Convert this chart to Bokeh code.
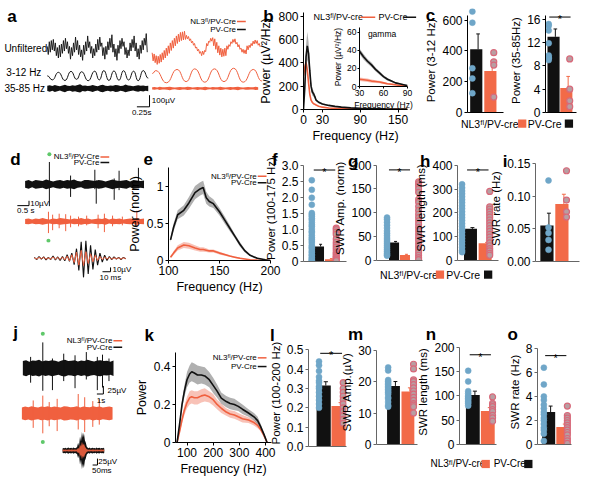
from bokeh.plotting import figure
from bokeh.models import Range1d, FixedTicker, GridBox
from bokeh.core.properties import value
from bokeh.embed import file_html
from bokeh.resources import INLINE

# ======================= DATA =======================
FL = "\u1da0\u02e1"  # superscript "fl"
# ---- panel a : example traces (uV) ----
a_dt = 0.02
a_unf_pv = [20, -50, 60, -30, 70, -10, 80, -20, 50, -60,
            10, -80, 30, -70, 40, -40, 70, -20, 90, 0,
            60, -40, 20, -90, 10, -60, 50, -30, 100, -10,
            70, -50, 30, -70, -10, -100, 30, -50, 60, -20,
            110, 10, 60, -40, 20, -80, 0, -60, 40, -30,
            80, -10, 100, 20, 50, -60, 10, -90, 20, -50,
            60, -10, 90, 10, 120, -30, 40, -70, 0, -100,
            30, -40, 70, 0, 90, 20, 60, -50, 10, -80,
            -10, -60, 50, -20, 80, 10, 110, -20, 50, -70,
            0, -90, 30, -40, 70, -10, 90, 30, 130, -30]
a_unf_nl = [-35, -105, -45, -120, -60, -135, -65, -125, -50, -115, -35, -95, -15, -80, 5, -60,
            25, -40, 50, -15, 70, 5, 90, 25, 110, 45, 125, 60, 140, 70, 145, 75, 150, 80, 115, 85,
            105, 70, 85, 50, 65, 30, 45, 5, 15, -20, -5, -40, -25, -60, -20, -50, -15, -25, 45, 25,
            65, 55, 90, 65, 95, 25, 85, -5, 55, -35, 25, -55, 5, -70, -5, -65, 5, -60, 25, -5,
            35, 20, 60, 45, 80, 55, 85, 40, 55, 15, 35, -5, 5, -30, -5, -40, -10, -45, 25, -10,
            30, 10, 45, 25, 65, 40, 75, 45, 70, 30, 45, 15]
a_theta_pv_t = [0.00, 0.10, 0.22, 0.35, 0.47, 0.58, 0.68, 0.81, 0.94, 1.03,
                1.12, 1.22, 1.32, 1.42, 1.51, 1.61, 1.71, 1.80, 1.90, 2.00]
a_theta_pv_v = [0, -35, 30, -40, 38, -30, 35, -42, 40, -35,
                45, -40, 42, -38, 44, -36, 40, -42, 45, -20]
a_theta_nl_t = [2.08, 2.15, 2.36, 2.57, 2.75, 2.92, 3.12, 3.31, 3.50, 3.69, 3.88, 4.08, 4.25]
a_theta_nl_v = [20, 45, -60, 55, -50, 60, -55, 60, -50, 65, -55, 55, -45]
a_gam_dt = 0.05
a_gam_pv_env = [22, 28, 20, 30, 24, 18, 26, 32, 22, 20, 28, 24, 30, 35, 22, 26, 20, 24, 30, 22,
                18, 28, 32, 24, 20, 26, 22, 30, 28, 20, 24, 34, 26, 22, 18, 24, 28, 22, 26, 20, 24]
a_gam_nl_env = [10, 12, 8, 14, 10, 9, 12, 15, 10, 8, 11, 13, 9, 10, 14, 12, 8, 10, 13, 9, 11, 15,
                10, 8, 12, 10, 9, 14, 11, 8, 10, 13, 9, 12, 15, 10, 8, 11, 12, 9, 10, 14, 11]
a_scale = (100, 0.25)   # uV, s

# ---- panel b : power spectra ----
b_freq = [0, 2, 4, 6, 8, 10, 12, 14, 16, 18, 20, 24, 30, 40, 50, 60, 75, 90, 110, 130, 150, 165]
b_pv = [0, 180, 450, 545, 480, 330, 200, 150, 135, 110, 80, 62, 47, 35, 27, 20, 14, 10, 7, 5, 4, 3]
b_pv_sem = [0, 40, 100, 120, 100, 70, 40, 30, 25, 18, 12, 8, 6, 5, 4, 3, 2, 2, 1, 1, 1, 1]
b_nl = [290, 360, 400, 340, 230, 130, 80, 60, 50, 45, 38, 28, 20, 13, 10, 7, 5, 3, 2, 2, 1, 1]
b_nl_sem = [30, 35, 40, 35, 25, 15, 10, 7, 6, 5, 4, 3, 2, 2, 1, 1, 1, 1, 1, 1, 1, 1]
b_xticks = [0, 30, 90, 150]
b_yticks = [0, 200, 400, 600, 800]
bg_freq = [30, 35, 40, 45, 50, 55, 60, 65, 70, 75, 80, 85, 90]
bg_pv = [39, 33, 28, 24, 19, 15, 11, 8, 6, 4, 3, 2, 1]
bg_pv_sem = [3, 3, 2.5, 2.5, 2, 2, 1.5, 1.5, 1, 1, 1, 0.8, 0.5]
bg_nl = [8, 7.5, 7, 6, 5.5, 5, 4, 3, 2.5, 2, 1.2, 0.8, 0.4]
bg_nl_sem = [2, 2, 2, 1.8, 1.5, 1.5, 1.2, 1, 1, 0.8, 0.6, 0.5, 0.4]
bg_xticks = [30, 60, 90]
bg_yticks = [0, 20, 40, 60]

# ---- panel c ----
c1_means = [410, 270]; c1_errs = [100, 63]
c1_pv = [655, 583, 287, 221, 125]; c1_nl = [388, 329, 308, 100]
c1_yticks = [0, 200, 400, 600]
c2_means = [13.0, 4.2]; c2_errs = [1.35, 2.0]
c2_pv = [15.2, 14.9, 14.1, 11.9, 9.8, 9.5, 9.3, 9.0]; c2_nl = [9.2, 4.0, 2.0, 1.0]
c2_yticks = [0, 4, 8, 12, 16]; c2_sig = 16.4

# ---- panel d : SWR traces ----
d_dt = 0.15
d_pv_env = [7, 9, 6, 9, 8, 7, 10, 8, 6, 8, 9, 7, 9, 8, 10, 7, 6, 9, 9, 8,
            7, 9, 8, 6, 8, 10, 8, 7, 8, 9, 6, 9, 8, 7, 8]
d_nl_env = [5, 6, 4, 6, 5, 7, 5, 4, 6, 5, 7, 6, 5, 4, 6, 5, 7, 5, 6, 4,
            5, 6, 5, 7, 4, 6, 5, 6, 4, 5, 6, 5, 7, 5, 6]
d_pv_spk_t = [1.04, 1.95, 2.99, 3.05, 3.82, 4.03, 4.86]
d_pv_spk_up = [46, 18, 30, 8, 12, 28, 34]
d_pv_spk_dn = [-45, -26, -10, -40, -32, -12, -8]
d_nl_spk_t = [1.0, 1.18, 1.46, 1.74, 1.95, 2.29, 2.64, 3.13, 3.4, 3.75, 4.17, 4.79]
d_nl_spk_up = [20, 14, 16, 15, 12, 10, 12, 14, 16, 12, 10, 22]
d_nl_spk_dn = [-24, -18, -14, -20, -12, -10, -8, -14, -22, -10, -8, -12]
d_swr_dt = 2.9  # ms
d_swr_pv = [2, -3, 4, -2, 3, -4, 2, -3, 5, -4, 3, -5, 4, -6, 8, -7, 12, -15, 22, -28,
            38, -44, 40, -36, 30, -26, 20, -16, 12, -9, 7, -5, 4, -3, 3, -2, 2, -3, 2, -1]
d_swr_nl = [1, -2, 2, -1, 2, -2, 1, -2, 3, -2, 2, -3, 3, -4, 5, -6, 8, -10, 14, -16,
            18, -17, 15, -12, 10, -8, 7, -5, 4, -3, 3, -2, 2, -2, 1, -1, 1, -2, 1, -1]
d_scale = (10, 0.5); d_swr_scale = (10, 10)

# ---- panel e ----
e_freq = [102, 105, 109, 115, 120, 126, 131, 134, 137, 140, 144, 150, 155, 160, 165, 170, 175, 180, 187, 195, 200]
e_pv = [0.28, 0.45, 0.62, 0.68, 0.78, 0.92, 0.97, 0.99, 0.85, 0.8, 0.77, 0.66, 0.55, 0.44, 0.33, 0.22, 0.13, 0.07, 0.03, 0.01, 0.0]
e_pv_sem = [0.03, 0.05, 0.06, 0.07, 0.08, 0.09, 0.09, 0.09, 0.08, 0.07, 0.06, 0.05, 0.05, 0.04, 0.03, 0.03, 0.02, 0.01, 0.01, 0.005, 0.005]
e_nl = [0.045, 0.1, 0.17, 0.21, 0.2, 0.17, 0.15, 0.15, 0.14, 0.13, 0.13, 0.1, 0.08, 0.06, 0.045, 0.03, 0.02, 0.01, 0.005, 0.0, 0.0]
e_nl_sem = [0.015, 0.025, 0.035, 0.04, 0.04, 0.035, 0.03, 0.03, 0.025, 0.02, 0.02, 0.02, 0.015, 0.01, 0.01, 0.01, 0.005, 0.005, 0.003, 0.0, 0.0]
e_xticks = [100, 150, 200]
e_yticks = [0, 0.5, 1]; e_ylabels = ["0", "0.5", "1"]

# ---- panels f-i ----
f_means = [0.47, 0.07]; f_errs = [0.07, 0.02]; f_sig = 2.87
f_pv = [2.55, 2.25, 2.0, 1.78, 1.52, 1.47, 1.42, 1.35, 1.3, 1.22, 1.15, 1.1, 1.02, 0.95, 0.9, 0.82,
        0.75, 0.7, 0.64, 0.58, 0.5, 0.45, 0.4, 0.33, 0.28, 0.22, 0.18, 0.12, 0.08, 0.04, 0.02]
f_nl = [1.05, 1.0, 0.92, 0.85, 0.7, 0.6, 0.52, 0.45, 0.38, 0.3, 0.25, 0.2, 0.15, 0.12, 0.08, 0.05, 0.03]
f_yticks = [0, 0.5, 1, 1.5, 2, 2.5, 3]; f_ylabels = ["0", "0.5", "1.0", "1.5", "2.0", "2.5", "3.0"]
g_means = [38, 11.5]; g_errs = [2, 1.5]; g_sig = 190
g_pv = [90, 86, 80, 74, 68, 62, 57, 52, 47, 43, 39, 35, 31, 27, 23, 19, 15, 12, 10]
g_nl = [165, 161, 156, 150, 143, 128, 122, 113, 105, 97, 90, 83, 76, 69, 62, 55, 48, 42, 35, 29, 23, 17, 11, 6, 2]
g_yticks = [0, 50, 100, 150, 200]
h_means = [133, 72]; h_errs = [5, 4]; h_sig = 380
h_pv = [320, 305, 292, 280, 268, 255, 243, 230, 218, 205, 192, 180, 168, 155, 143, 130, 118, 105, 92, 80, 68, 55, 42, 35]
h_nl = [290, 225, 215, 204, 193, 182, 170, 158, 146, 134, 122, 110, 98, 86, 74, 62, 50, 40, 30, 22]
h_yticks = [0, 100, 200, 300, 400]
i_means = [0.055, 0.088]; i_errs = [0.019, 0.015]
i_pv = [0.124, 0.052, 0.0435, 0.033, 0.018]
i_nl = [0.139, 0.094, 0.076, 0.068]
i_yticks = [0, 0.05, 0.1, 0.15]; i_ylabels = ["0.00", "0.05", "0.10", "0.15"]

# ---- panel j ----
j_dt = 0.5
j_pv_env = [22, 25, 20, 24, 23, 26, 21, 24, 22, 25, 23, 20, 24, 26, 22, 23, 25, 21, 24, 22, 26, 23, 21, 24, 25, 22, 23, 20, 24]
j_nl_env = [18, 21, 19, 22, 20, 18, 21, 20, 22, 19, 21, 20, 18, 22, 21, 19, 20, 22, 18, 21, 20, 19, 22, 20, 21, 18, 20, 21, 19]
j_pv_spk_t = [1.2, 3.08, 4.57, 6.31, 8.06, 9.8, 11.5, 12.3, 13.3]
j_pv_spk_up = [35, 80, 30, 45, 40, 50, 35, 42, 30]
j_pv_spk_dn = [-45, -70, -68, -40, -62, -35, -68, -60, -40]
j_nl_spk_t = [1.6, 3.08, 4.07, 5.3, 8.55, 9.55, 10.8, 11.8]
j_nl_spk_up = [40, 55, 35, 45, 60, 50, 38, 44]
j_nl_spk_dn = [-45, -62, -40, -55, -50, -58, -42, -35]
j_swr_dt = 10  # ms
j_swr_pv_env = [8, 10, 9, 11, 8, 10, 12, 9, 10, 11, 8, 12, 10, 9, 11, 14, 30, 18, 55, 35, 72, 50,
                68, 40, 30, 15, 11, 9, 12, 8, 10, 11, 9, 10, 8, 12, 9, 10, 11, 8, 10, 9, 11, 8]
j_swr_nl_env = [3, 4, 3, 4, 3, 3, 4, 4, 3, 4, 4, 3, 4, 4, 3, 5, 10, 7, 24, 15, 34, 20,
                28, 16, 10, 5, 4, 3, 4, 3, 3, 4, 4, 3, 4, 3, 4, 3, 3, 4, 4, 3, 4, 3]
j_scale = (25, 1.0); j_swr_scale = (25, 50)

# ---- panel k ----
k_freq = [62, 72, 81, 90, 100, 110, 118, 128, 140, 155, 168, 185, 200, 215, 231, 250, 265, 281, 296, 312, 335, 356, 370, 381, 395, 406]
k_pv = [0.0, 0.1, 0.2, 0.27, 0.33, 0.36, 0.372, 0.365, 0.355, 0.355, 0.35, 0.33, 0.3, 0.27, 0.233, 0.215, 0.205, 0.2, 0.19, 0.175, 0.155, 0.135, 0.115, 0.085, 0.04, 0.0]
k_pv_sem = [0.0, 0.015, 0.025, 0.03, 0.04, 0.045, 0.05, 0.05, 0.05, 0.045, 0.045, 0.04, 0.04, 0.035, 0.03, 0.03, 0.03, 0.03, 0.025, 0.025, 0.02, 0.02, 0.02, 0.015, 0.01, 0.0]
k_nl = [0.0, 0.06, 0.12, 0.17, 0.21, 0.235, 0.24, 0.235, 0.235, 0.245, 0.25, 0.24, 0.225, 0.2, 0.18, 0.16, 0.15, 0.145, 0.135, 0.125, 0.118, 0.105, 0.09, 0.07, 0.035, 0.0]
k_nl_sem = [0.0, 0.01, 0.02, 0.025, 0.03, 0.035, 0.035, 0.035, 0.035, 0.035, 0.035, 0.03, 0.03, 0.025, 0.025, 0.02, 0.02, 0.02, 0.02, 0.02, 0.015, 0.015, 0.015, 0.01, 0.01, 0.0]
k_xticks = [100, 200, 300, 400]
k_yticks = [0, 0.2, 0.4]; k_ylabels = ["0", "0.2", "0.4"]

# ---- panels l-o ----
l_means = [0.315, 0.21]; l_errs = [0.02, 0.017]; l_sig = 0.482
l_pv = [0.44, 0.42, 0.39, 0.36, 0.34, 0.33, 0.31, 0.3, 0.28, 0.26, 0.24, 0.22, 0.2]
l_nl = [0.33, 0.3, 0.28, 0.26, 0.24, 0.22, 0.2, 0.18, 0.16, 0.14, 0.12]
l_yticks = [0, 0.1, 0.2, 0.3, 0.4, 0.5]; l_ylabels = ["0.0", "0.1", "0.2", "0.3", "0.4", "0.5"]
m_means = [18.6, 16.8]; m_errs = [1.4, 1.2]
m_pv = [24.5, 23.5, 20.5, 20, 19.5, 19, 18.5, 18, 17.5, 17, 16.5, 16, 15, 14.5, 13.5, 12.5, 12]
m_nl = [25.5, 24, 20.5, 20, 19, 18, 17, 16, 15, 14, 13, 12.5, 12, 10]
m_yticks = [0, 10, 20, 30]
n_means = [102, 69]; n_errs = [8, 7]; n_sig = 185
n_pv = [152, 130, 110, 105, 100, 98, 95, 92, 88, 85, 80]
n_nl = [98, 85, 82, 78, 72, 68, 60, 55, 48]
n_yticks = [0, 50, 100, 150, 200]
o_means = [2.7, 1.45]; o_errs = [0.5, 0.25]; o_sig = 7.4
o_pv = [6.4, 5.0, 4.0, 3.7, 3.3, 3.0, 2.7, 2.5, 2.2, 2.0, 1.7, 1.4, 1.2, 0.9, 0.3]
o_nl = [3.2, 2.4, 2.2, 2.0, 1.8, 1.6, 1.4, 1.2, 1.0, 0.8, 0.5, 0.3, 0.1]
o_yticks = [0, 2, 4, 6, 8]

# ======================= STYLE / LAYOUT =======================
W, H = 584, 478
SX, SY = W / 600.0, H / 494.0
FONT = "Liberation Sans"
BLACK = "#111111"; RED = "#f0603f"; REDBAR = "#f26a48"
BLUE = "#6fa6c8"; PINK = "#d8697a"; PINKFILL = "#b89ea2"
SHADE_K = "#8f8f8f"; SHADE_R = "#f5a898"; GREEN = "#5fc86a"; GREY_AX = "#666666"

figs = []


def make_fig(x0, y0, x1, y1, xr, yr, axes=False):
    kw = {} if axes else dict(x_axis_location=None, y_axis_location=None)
    p = figure(width=W, height=H, x_range=Range1d(*xr), y_range=Range1d(*yr),
               output_backend="svg", toolbar_location=None, title=None,
               min_border_left=int(round(x0 * SX)), min_border_right=W - int(round(x1 * SX)),
               min_border_top=int(round(y0 * SY)), min_border_bottom=H - int(round(y1 * SY)), **kw)
    p.background_fill_color = None
    p.border_fill_color = None
    p.outline_line_color = None
    p.grid.visible = False
    figs.append(p)
    return p


def style(p, xt, xl, yt, yl, xlab, ylab, color="black", tsize="12px", lsize="12px", tick_out=3, stand=2):
    for ax, t, l, lab in ((p.xaxis[0], xt, xl, xlab), (p.yaxis[0], yt, yl, ylab)):
        ax.ticker = FixedTicker(ticks=list(t))
        if len(t):
            ax.major_label_overrides = dict(zip(t, l))
        ax.axis_label = lab if lab else None
        ax.axis_line_color = color
        ax.major_tick_line_color = color
        ax.major_tick_out = tick_out
        ax.major_tick_in = 0
        ax.minor_tick_line_color = None
        ax.major_label_text_font = FONT
        ax.major_label_text_font_size = tsize
        ax.major_label_text_color = "black"
        ax.major_label_standoff = stand
        ax.axis_label_text_font = FONT
        ax.axis_label_text_font_size = lsize
        ax.axis_label_text_font_style = "normal"
        ax.axis_label_text_color = "black"
        ax.axis_label_standoff = stand


def labels_of(t):
    return [str(v) for v in t]


def line_panel(frame, xr, yr, x, series):
    p = make_fig(*frame, xr, yr, axes=True)
    for mean, sem, lc, sc, a in series:
        p.varea(x=x, y1=[m - s for m, s in zip(mean, sem)], y2=[m + s for m, s in zip(mean, sem)],
                fill_color=sc, fill_alpha=a)
    for mean, sem, lc, sc, a in series:
        p.line(x=x, y=mean, line_color=lc, line_width=1.6)
    return p


def bar_panel(L, means, errs, pv, nl, yt, yl, bound_top, ylabel, sig=None, color=GREY_AX):
    upp = L["tick_v"] / (L["zero"] - L["tick_y"])
    sp = L["cr"] - L["cb"]
    xs = 1 - (L["cb"] - L["left"]) / sp
    xe = 1 + (L["right"] - L["cb"]) / sp
    p = make_fig(L["left"], L["top"], L["right"], L["zero"], (xs, xe), (0, (L["zero"] - L["top"]) * upp), axes=True)
    bwu = L["bw"] / sp
    xpos = [1, 2]
    cols = [BLACK, REDBAR]
    p.vbar(x=xpos, top=means, width=bwu, fill_color=cols, line_color=None)
    ex = [x + 0.15 * bwu for x in xpos]
    tops = [m + e for m, e in zip(means, errs)]
    p.segment(x0=ex, y0=means, x1=ex, y1=tops, line_color=cols, line_width=1)
    p.segment(x0=[x - 0.15 * bwu for x in ex], y0=tops, x1=[x + 0.15 * bwu for x in ex], y1=tops,
              line_color=cols, line_width=1)
    xb = 1 + (L["db"] - L["cb"]) / sp
    xr_ = 1 + (L["dr"] - L["cb"]) / sp
    p.scatter(x=[xb] * len(pv), y=pv, size=6, fill_color=BLUE, line_color=BLUE, line_width=0.5)
    p.scatter(x=[xr_] * len(nl), y=nl, size=6, fill_color=PINKFILL, line_color=PINK, line_width=1.2)
    if sig is not None:
        half = 11.0 / sp
        p.segment(x0=[1.5 - half], y0=[sig], x1=[1.5 + half], y1=[sig], line_color="black", line_width=1)
        p.text(x=[1.5], y=[sig], text=["*"], text_font=value(FONT), text_font_size="11px",
               text_align="center", text_baseline="alphabetic", y_offset=2)
    style(p, [], [], yt, yl, None, ylabel, color=color, tsize="12px", lsize="11.5px")
    p.yaxis[0].bounds = (0, bound_top)
    return p


class Tr:
    def __init__(self, frame, t0_ref, ppx, v0_ref, ppy):
        x0, y0, x1, y1 = frame
        self.t0_ref, self.ppx, self.v0_ref, self.ppy = t0_ref, ppx, v0_ref, ppy
        self.p = make_fig(x0, y0, x1, y1, ((x0 - t0_ref) / ppx, (x1 - t0_ref) / ppx),
                          ((v0_ref - y1) / ppy, (v0_ref - y0) / ppy))

    def v(self, ref_y):
        return (self.v0_ref - ref_y) / self.ppy

    def t(self, ref_x):
        return (ref_x - self.t0_ref) / self.ppx

    def sbar(self, ref_x, ref_y, dv, dt):
        t, v = self.t(ref_x), self.v(ref_y)
        self.p.segment(x0=[t, t - dt], y0=[v, v], x1=[t, t], y1=[v + dv, v], line_color="black", line_width=1)

    def trace(self, t0, dt, vals, base, color, width=0.8):
        self.p.line(x=[t0 + i * dt for i in range(len(vals))], y=[base + v for v in vals],
                    line_color=color, line_width=width)

    def band(self, t0, dt, env, base, color, alpha=1.0):
        ts = [t0 + i * dt for i in range(len(env))]
        self.p.varea(x=ts, y1=[base - e for e in env], y2=[base + e for e in env], fill_color=color, fill_alpha=alpha)

    def spikes(self, ts, up, dn, base, color):
        self.p.segment(x0=ts, y0=[base + d for d in dn], x1=ts, y1=[base + u for u in up],
                       line_color=color, line_width=1)

    def smooth(self, ts, vs, base, color, width=1.0):
        x0, x1 = ts[:-1], ts[1:]
        y0 = [base + v for v in vs[:-1]]
        y1 = [base + v for v in vs[1:]]
        cx = [(a + b) / 2 for a, b in zip(x0, x1)]
        self.p.bezier(x0=x0, y0=y0, x1=x1, y1=y1, cx0=cx, cy0=y0, cx1=cx, cy1=y1, line_color=color, line_width=width)


# ---------- panel a ----------
ta = Tr((40, 25, 282, 120), 48, 52, 120, 0.12)
ta.trace(0, a_dt, a_unf_pv, ta.v(50), BLACK, 0.9)
ta.trace(ta.t(156), a_dt, a_unf_nl, ta.v(50), RED, 1.0)
ta.smooth(a_theta_pv_t, a_theta_pv_v, ta.v(78), BLACK)
ta.smooth(a_theta_nl_t, a_theta_nl_v, ta.v(78), RED)
ta.band(0, a_gam_dt, a_gam_pv_env, ta.v(91), BLACK)
ta.band(ta.t(156), a_gam_dt, a_gam_nl_env, ta.v(91), RED)
ta.sbar(153.3, 110, a_scale[0], a_scale[1])

# ---------- panel b ----------
pb = line_panel((311.7, 12, 418.5, 113), (0, 165), (0, 830), b_freq,
                [(b_nl, b_nl_sem, RED, SHADE_R, 0.7), (b_pv, b_pv_sem, BLACK, SHADE_K, 0.7)])
style(pb, b_xticks, labels_of(b_xticks), b_yticks, labels_of(b_yticks), "Frequency (Hz)", "Power (\u00b5V\u00b2/Hz)",
      tsize="12px", lsize="12.5px")
pbi = line_panel((369.3, 28.3, 418.3, 89.3), (30, 90), (0, 65.4), bg_freq,
                 [(bg_nl, bg_nl_sem, RED, SHADE_R, 0.7), (bg_pv, bg_pv_sem, BLACK, SHADE_K, 0.7)])
style(pbi, bg_xticks, labels_of(bg_xticks), bg_yticks, labels_of(bg_yticks), "Frequency (Hz)",
      "Power (\u00b5V\u00b2/Hz)", tsize="8.5px", lsize="8.5px", tick_out=2, stand=1)

# ---------- panel c ----------
BL = {
    "c1": dict(left=480, right=517, top=8, zero=116, tick_y=20, tick_v=600, cb=489, cr=503.5, bw=12.5, db=485, dr=507),
    "c2": dict(left=560, right=592, top=8, zero=116, tick_y=19.3, tick_v=16, cb=568.3, cr=581.5, bw=12.5, db=563.3, dr=585),
    "f": dict(left=311, right=355, top=160, zero=269.3, tick_y=170.7, tick_v=3.0, cb=327, cr=338, bw=10, db=319.5, dr=344.5),
    "g": dict(left=386, right=434, top=160, zero=269, tick_y=170, tick_v=200, cb=404.3, cr=415.7, bw=10.5, db=397, dr=430),
    "h": dict(left=470, right=512, top=160, zero=268.3, tick_y=170, tick_v=400, cb=483.3, cr=498.3, bw=13.3, db=474.7, dr=503),
    "i": dict(left=550, right=595, top=160, zero=269.3, tick_y=168.3, tick_v=0.15, cb=561.7, cr=577, bw=13.5, db=563.3, dr=581.7),
    "l": dict(left=316.7, right=355, top=350, zero=460.7, tick_y=360.7, tick_v=0.5, cb=332, cr=347, bw=14.3, db=327.3, dr=351.7),
    "m": dict(left=386.5, right=428, top=350, zero=459.3, tick_y=361, tick_v=30, cb=403.7, cr=418.3, bw=13, db=398.3, dr=424),
    "n": dict(left=471.7, right=510, top=350, zero=459, tick_y=358.3, tick_v=200, cb=485.5, cr=501, bw=14.3, db=480.7, dr=506),
    "o": dict(left=551.7, right=587, top=350, zero=459.3, tick_y=359.3, tick_v=8, cb=563.3, cr=578, bw=13.5, db=558.3, dr=582.7),
}
bar_panel(BL["c1"], c1_means, c1_errs, c1_pv, c1_nl, c1_yticks, labels_of(c1_yticks), 630, "Power (3-12 Hz)", color="black")
bar_panel(BL["c2"], c2_means, c2_errs, c2_pv, c2_nl, c2_yticks, labels_of(c2_yticks), 16.7, "Power (35-85Hz)", sig=c2_sig, color="black")

# ---------- panel d ----------
td = Tr((12, 150, 152, 250), 25, 24, 250, 0.5)
bpv, bnl = td.v(190), td.v(228.3)
td.band(0, d_dt, d_pv_env, bpv, BLACK)
td.spikes(d_pv_spk_t, d_pv_spk_up, d_pv_spk_dn, bpv, BLACK)
td.band(0, d_dt, d_nl_env, bnl, RED)
td.spikes(d_nl_spk_t, d_nl_spk_up, d_nl_spk_dn, bnl, RED)
td.p.scatter(x=[d_pv_spk_t[0], d_nl_spk_t[0]],
             y=[bpv + d_pv_spk_up[0] + 8 / td.ppy, bnl + d_nl_spk_dn[0] - 8 / td.ppy],
             size=4, fill_color=GREEN, line_color=None)
td.sbar(29, 212, d_scale[0], d_scale[1])
tds = Tr((28, 240, 142, 296), 35, 0.83, 266.7, 0.45)
tds.trace(0, d_swr_dt, d_swr_pv, 0, BLACK, 1.1)
tds.trace(0, d_swr_dt, d_swr_nl, 0, RED, 1.0)
tds.sbar(113.3, 280.7, d_swr_scale[0], d_swr_scale[1])

# ---------- panel e ----------
pe = line_panel((172.7, 172.7, 277, 268.3), (100, 200), (0, 1.26), e_freq,
                [(e_nl, e_nl_sem, RED, SHADE_R, 0.7), (e_pv, e_pv_sem, BLACK, SHADE_K, 0.7)])
style(pe, e_xticks, labels_of(e_xticks), e_yticks, e_ylabels, "Frequency (Hz)", "Power (norm)", tsize="12px", lsize="12.5px")

# ---------- panels f-i ----------
bar_panel(BL["f"], f_means, f_errs, f_pv, f_nl, f_yticks, f_ylabels, 3.0, "Power (100-175 Hz)", sig=f_sig)
bar_panel(BL["g"], g_means, g_errs, g_pv, g_nl, g_yticks, labels_of(g_yticks), 200, "SWR Amp. (norm)", sig=g_sig)
bar_panel(BL["h"], h_means, h_errs, h_pv, h_nl, h_yticks, labels_of(h_yticks), 400, "SWR length (ms)", sig=h_sig)
bar_panel(BL["i"], i_means, i_errs, i_pv, i_nl, i_yticks, i_ylabels, 0.15, "SWR rate (Hz)")

# ---------- panel j ----------
tj = Tr((12, 340, 132, 462), 22.7, 6.7, 462, 1 / 3.0)
jpv, jnl = tj.v(380), tj.v(426.7)
tj.band(0, j_dt, j_pv_env, jpv, BLACK)
tj.spikes(j_pv_spk_t, j_pv_spk_up, j_pv_spk_dn, jpv, BLACK)
tj.band(tj.t(21.7), j_dt, j_nl_env, jnl, RED)
tj.spikes(j_nl_spk_t, j_nl_spk_up, j_nl_spk_dn, jnl, RED)
tj.p.scatter(x=[j_pv_spk_t[1], j_nl_spk_t[1]],
             y=[jpv + j_pv_spk_up[1] + 9 / tj.ppy, jnl + j_nl_spk_dn[1] - 9 / tj.ppy],
             size=4, fill_color=GREEN, line_color=None)
tj.sbar(106, 406.7, j_scale[0], j_scale[1])
tjs = Tr((55, 440, 122, 494), 63.3, 0.1, 465, 1 / 3.75)
tjs.band(0, j_swr_dt, j_swr_pv_env, 0, BLACK)
tjs.band(0, j_swr_dt, j_swr_nl_env, 0, RED, 0.9)
tjs.sbar(99.3, 480, j_swr_scale[0], j_swr_scale[1])

# ---------- panel k ----------
pk = line_panel((180, 363.3, 278, 460.7), (56, 423), (0, 0.473), k_freq,
                [(k_nl, k_nl_sem, RED, SHADE_R, 0.7), (k_pv, k_pv_sem, BLACK, SHADE_K, 0.7)])
style(pk, k_xticks, labels_of(k_xticks), k_yticks, k_ylabels, "Frequency (Hz)", "Power", tsize="12px", lsize="12.5px")

# ---------- panels l-o ----------
bar_panel(BL["l"], l_means, l_errs, l_pv, l_nl, l_yticks, l_ylabels, 0.5, "Power (100-200 Hz)", sig=l_sig)
bar_panel(BL["m"], m_means, m_errs, m_pv, m_nl, m_yticks, labels_of(m_yticks), 30, "SWR Amp.(\u00b5V)")
bar_panel(BL["n"], n_means, n_errs, n_pv, n_nl, n_yticks, labels_of(n_yticks), 200, "SWR length (ms)", sig=n_sig)
bar_panel(BL["o"], o_means, o_errs, o_pv, o_nl, o_yticks, labels_of(o_yticks), 8, "SWR rate (Hz)", sig=o_sig)

# ---------- canvas for letters, labels, legends ----------
cv = make_fig(0, 0, 600, 494, (0, 600), (494, 0))


def txt(xs, ys, texts, size, align="left", baseline="middle", style_="normal"):
    cv.text(x=xs, y=ys, text=texts, text_font=value(FONT), text_font_size=size, text_align=align,
            text_baseline=baseline, text_color="black", text_font_style=style_)


letters = [("a", 7, 17), ("b", 270, 16.7), ("c", 437, 15), ("d", 10, 164), ("e", 147, 164),
           ("f", 279, 164), ("g", 357, 166), ("h", 431, 166.7), ("i", 516, 166.7), ("j", 13, 343),
           ("k", 148, 346.7), ("l", 277, 346.7), ("m", 357, 345), ("n", 437, 345), ("o", 521, 345)]
txt([l[1] for l in letters], [l[2] for l in letters], [l[0] for l in letters], "17px", baseline="alphabetic", style_="bold")

txt([4, 6, 4], [49.3, 74, 91], ["Unfiltered", "3-12 Hz", "35-85 Hz"], "10px")
txt([155.5, 135, 30.5, 17, 115, 101.7, 110, 99, 100.5, 94],
    [103, 116, 210, 217.5, 277.5, 286, 403, 413, 476.7, 486],
    ["100\u00b5V", "0.25s", "10\u00b5V", "0.5 s", "10\u00b5V", "10 ms", "25\u00b5V", "1s", "25\u00b5V", "50ms"], "8px")
txt([392], [35], ["gamma"], "8.5px", align="center")

leg = [(242, 21.7, 30, "NL3" + FL + "/PV-Cre"), (101.7, 161.7, 167.5, "NL3" + FL + "/PV-Cre"),
       (263.3, 181.7, 188.3, "NL3" + FL + "/PV-Cre"), (115, 351.7, 358.3, "NL3" + FL + "/PV-Cre"),
       (263.3, 369.3, 378.3, "NL3" + FL + "/PV-cre")]
txt([g[0] for g in leg], [g[1] for g in leg], [g[3] for g in leg], "8px", align="right")
txt([g[0] for g in leg], [g[2] for g in leg], ["PV-Cre"] * len(leg), "8px", align="right")
cv.segment(x0=[g[0] + 1 for g in leg], y0=[g[1] for g in leg], x1=[g[0] + 10 for g in leg], y1=[g[1] for g in leg],
           line_color=RED, line_width=1.5)
cv.segment(x0=[g[0] + 1 for g in leg], y0=[g[2] for g in leg], x1=[g[0] + 10 for g in leg], y1=[g[2] for g in leg],
           line_color=BLACK, line_width=1.5)
txt([321.7, 388.3], [17.3, 17.3], ["NL3" + FL + "/PV-cre", "PV-Cre"], "9px")
cv.segment(x0=[370, 414], y0=[17.3, 17.3], x1=[385, 427], y1=[17.3, 17.3], line_color=[RED, BLACK], line_width=1.5)
bleg = [(473, 127.3, 536, 541.7, 584, "10.5px"), (390, 283.3, 451.5, 458, 501, "10.5px"),
        (441.7, 479, 498.5, 506.7, 542.3, "10px")]
for x_t, y_, sq1, x_t2, sq2, fs in bleg:
    txt([x_t, x_t2], [y_, y_], ["NL3" + FL + "/PV-cre", "PV-Cre"], fs)
    cv.rect(x=[sq1, sq2], y=[y_, y_], width=8.5, height=8.5, fill_color=[REDBAR, BLACK], line_color=None)

# every figure gets its own (zero-size) start/end tracks so that no frame alignment happens
N = len(figs)
tracks_r = ["0px"] * N + ["%dpx" % H] + ["0px"] * N
tracks_c = ["0px"] * N + ["%dpx" % W] + ["0px"] * N
grid = GridBox(children=[(f, i, i, N + 1, N + 1) for i, f in enumerate(figs)],
               rows=tracks_r, cols=tracks_c, spacing=0)
open("out.html", "w").write(file_html(grid, INLINE))
